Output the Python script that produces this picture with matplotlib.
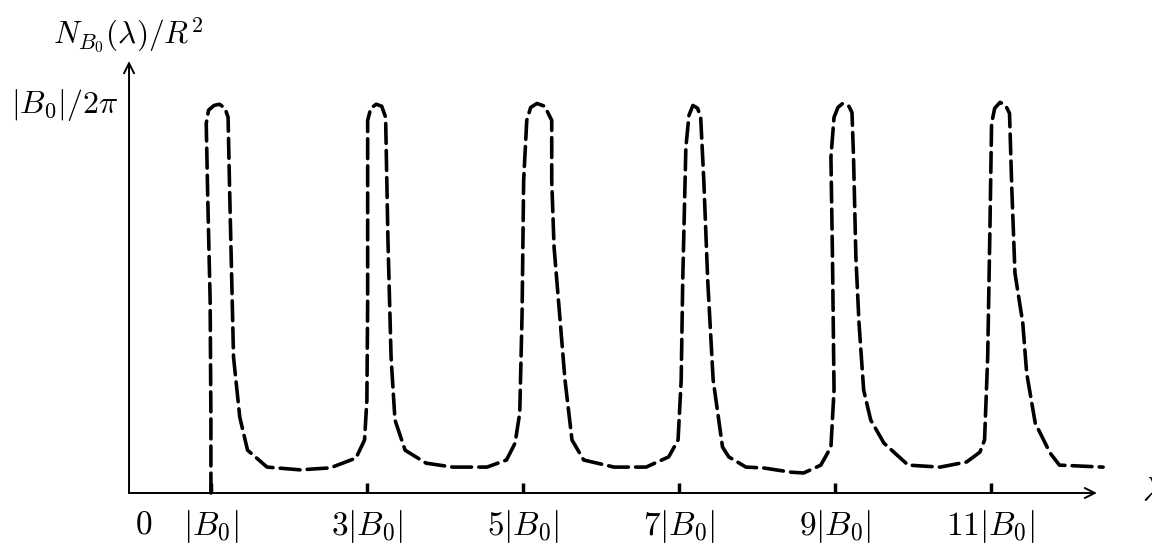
import matplotlib
matplotlib.use("Agg")
from matplotlib import pyplot as plt

plt.rcParams["mathtext.fontset"] = "cm"
plt.rcParams["font.family"] = "serif"
plt.rcParams["font.serif"] = ["cmr10", "DejaVu Serif"]

# curve: lambda in units of |B0|, N/R^2 in units of |B0|/2pi
lam = [
    1.00, 1.00, 0.99, 0.96, 0.94, 0.97, 1.04, 1.11, 1.18, 1.22, 1.24, 1.27, 1.29,
    1.37, 1.47, 1.72, 2.14, 2.53,
    2.86, 2.97, 3.00, 3.01, 3.01, 3.01, 3.05, 3.12, 3.19, 3.24, 3.27, 3.31,
    3.36, 3.49, 3.76, 4.10,
    4.54, 4.79, 4.90, 4.96, 4.99, 5.01, 5.05, 5.10, 5.18, 5.28, 5.37, 5.37,
    5.40, 5.47, 5.54, 5.63, 5.78, 6.17,
    6.58, 6.87, 6.99, 7.03, 7.05, 7.09, 7.13, 7.18, 7.24, 7.28, 7.32, 7.37,
    7.44, 7.56, 7.64, 7.86, 8.08,
    8.44, 8.60, 8.82, 8.95, 8.99, 8.97, 8.95, 8.99, 9.04, 9.10, 9.18, 9.22,
    9.24, 9.27, 9.31, 9.37, 9.46, 9.63, 9.94,
    10.35, 10.69, 10.86, 10.92, 10.96, 10.99, 11.01, 11.05, 11.12, 11.19,
    11.24, 11.27, 11.31, 11.41, 11.46, 11.57, 11.76, 11.88, 12.44,
]
dos = [
    0.000, 0.186, 0.491, 0.746, 0.941, 0.975, 0.987, 0.990, 0.980, 0.957, 0.771, 0.517, 0.346,
    0.193, 0.109, 0.066, 0.059, 0.064,
    0.089, 0.135, 0.237, 0.491, 0.746, 0.949, 0.980, 0.990, 0.985, 0.957, 0.644, 0.346,
    0.186, 0.109, 0.076, 0.066,
    0.066, 0.084, 0.127, 0.204, 0.458, 0.796, 0.949, 0.982, 0.992, 0.985, 0.949, 0.796,
    0.626, 0.458, 0.288, 0.135, 0.084, 0.066,
    0.066, 0.092, 0.135, 0.288, 0.542, 0.880, 0.962, 0.987, 0.980, 0.957, 0.796, 0.542,
    0.288, 0.117, 0.092, 0.066, 0.064,
    0.053, 0.051, 0.071, 0.117, 0.262, 0.601, 0.855, 0.957, 0.982, 0.992, 0.985, 0.969,
    0.855, 0.601, 0.433, 0.262, 0.186, 0.127, 0.071,
    0.066, 0.079, 0.104, 0.135, 0.346, 0.687, 0.941, 0.980, 0.995, 0.987,
    0.967, 0.771, 0.560, 0.433, 0.305, 0.178, 0.102, 0.071, 0.066,
]

tick_pos = [1, 3, 5, 7, 9, 11]
tick_labels = [r"$|B_0|$", r"$3|B_0|$", r"$5|B_0|$", r"$7|B_0|$", r"$9|B_0|$", r"$11|B_0|$"]

fig = plt.figure(figsize=(11.52, 5.47), dpi=100)
ax = fig.add_axes([0.112, 0.0987, 0.853, 0.804])

ax.plot(lam, dos, color="black", lw=2.6, linestyle=(0, (5.5, 2.0)),
        solid_capstyle="round", dash_capstyle="round", clip_on=False)

ax.set_xlim(-0.05, 12.55)
ax.set_ylim(0, 1.12)
for s in ax.spines.values():
    s.set_visible(False)

# axes with open arrow heads
ax.annotate("", xy=(0.985, 0), xytext=(0, 0), xycoords="axes fraction",
            arrowprops=dict(arrowstyle="->", color="black", lw=1.4,
                            mutation_scale=18, shrinkA=0, shrinkB=0))
ax.annotate("", xy=(0, 1.10 / 1.12), xytext=(0, 0), xycoords="axes fraction",
            arrowprops=dict(arrowstyle="->", color="black", lw=1.4,
                            mutation_scale=18, shrinkA=0, shrinkB=0))

ax.set_xticks(tick_pos)
ax.set_xticklabels(tick_labels, fontsize=24)
ax.tick_params(axis="x", direction="in", length=7, width=2.5, pad=11)
ax.set_yticks([1])
ax.set_yticklabels([r"$|B_0|/2\pi$"], fontsize=23)
ax.tick_params(axis="y", length=0, pad=8)

ax.text(0.14, -0.045, r"$0$", fontsize=24, ha="center", va="top")
ax.text(12.94, 0.0, r"$\lambda$", fontsize=24, ha="left", va="center", clip_on=False)
fig.text(0.111, 0.935, r"$N_{B_0}(\lambda)/R^2$", fontsize=22.5, ha="center", va="center")

fig.savefig("out.png", dpi=100)
